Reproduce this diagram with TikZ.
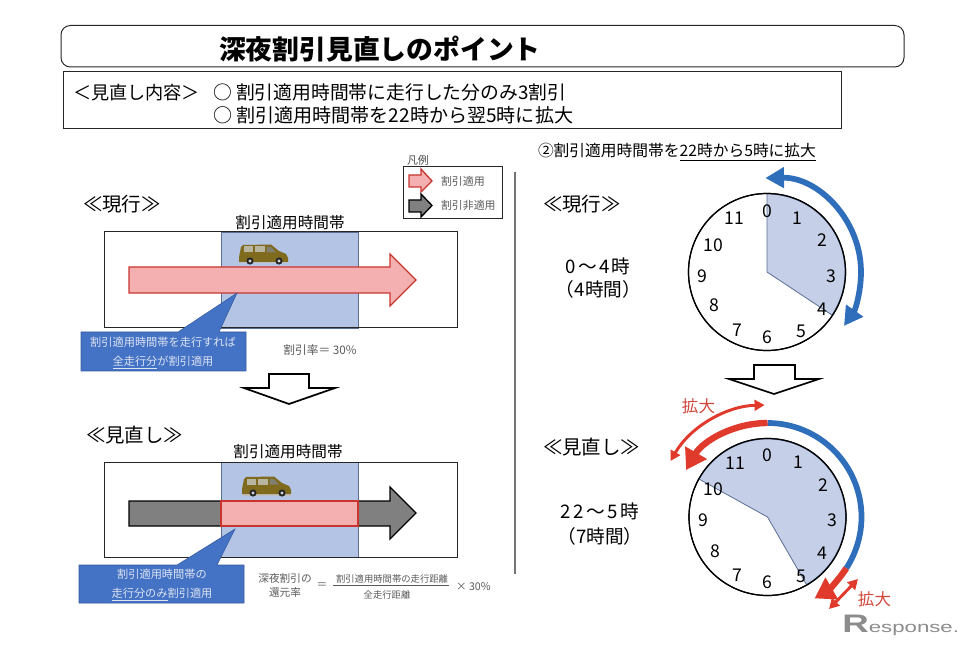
\documentclass[tikz,border=0pt]{standalone}
\usepackage{fontspec}
\setmainfont{Noto Sans CJK JP}
\newfontfamily\logofont[FakeStretch=1.45]{Liberation Sans}
\usetikzlibrary{arrows.meta}
\definecolor{bandblue}{HTML}{B4C4E4}
\definecolor{bandline}{HTML}{5A6E94}
\definecolor{wedgeblue}{HTML}{C5D0E8}
\definecolor{notefill}{HTML}{4472C4}
\definecolor{notetext}{HTML}{DDE4F2}
\definecolor{okpink}{HTML}{F4B0B0}
\definecolor{okred}{HTML}{C8352F}
\definecolor{arcblue}{HTML}{2F6EBA}
\definecolor{arcred}{HTML}{E03A2C}
\definecolor{textred}{HTML}{D0483C}
\definecolor{vanbody}{HTML}{7F6A1E}
\definecolor{vanglass}{HTML}{B8B6A0}
\tikzset{
  jp/.style={inner sep=0pt,outer sep=0pt,font=\fontsize{#1}{#1}\selectfont},
  clocknum/.style={jp=13.2},
  frameline/.style={draw=black!85,line width=0.75pt},
  bandrect/.style={draw=bandline,fill=bandblue,line width=0.7pt},
  okarrow/.style={draw=okred,fill=okpink,line width=1pt},
  ngarrow/.style={draw=black,fill=black!50,line width=1pt},
  notebox/.style={fill=notefill,draw=notefill!80!black,line width=0.4pt},
  notelabel/.style={jp=8.4,text=notetext,align=center},
  smallgray/.style={jp=#1,text=black!65},
  nextarrow/.style={draw=black,fill=white,line width=1.3pt,line join=miter},
  wedge/.style={draw=bandline,fill=wedgeblue,line width=0.6pt},
  thickblue/.style={draw=arcblue,line width=4.3pt},
  thickred/.style={draw=arcred,line width=4.8pt},
  thinred/.style={draw=arcred,line width=2.2pt},
  minivan/.pic={
    \fill[black!25] (1,17) rectangle (49,19.5);
    \fill[vanbody] (0,13) -- (2,3) -- (4,1) -- (32,0.5) -- (40,7) -- (47,10) -- (49,14) -- (49,18) -- (0,18) -- cycle;
    \fill[vanglass] (5,2.5) rectangle (14,8.5);
    \fill[vanglass] (15.5,2.5) rectangle (26,8.5);
    \fill[vanglass!70!black] (27.5,3) -- (32,3) -- (37,8.5) -- (27.5,8.5) -- cycle;
    \fill[black!85] (11,17) circle (3.6);
    \fill[black!85] (40,17) circle (3.6);
    \fill[black!15] (11,17) circle (1.7);
    \fill[black!15] (40,17) circle (1.7);
  }
}
\begin{document}
\begin{tikzpicture}[x=0.75pt,y=-0.75pt]
\useasboundingbox (0,0) rectangle (968,645);

% header boxes
\draw[frameline,rounded corners=7pt] (61,25.5) rectangle (904,67);
\node[jp=20.1,anchor=west] (title) at (219,49) {\bfseries 深夜割引見直しのポイント};
\draw[frameline] (63,72) rectangle (841,128.5);
\node[jp=13.6,anchor=west] (heading) at (73,93) {＜見直し内容＞};
\node[jp=14.1,anchor=west] (pointa) at (213,92) {○ 割引適用時間帯に走行した分のみ3割引};
\node[jp=14.3,anchor=west] (pointb) at (213,115) {○ 割引適用時間帯を22時から翌5時に拡大};

% legend
\node[jp=8.2,anchor=west,text=black!70] (legendtitle) at (407,160) {凡例};
\draw[frameline] (403,167) rectangle (502,219);
\draw[okarrow] (409,175) -- (421,175) -- (421,169) -- (432,181) -- (421,192) -- (421,187) -- (409,187) -- cycle;
\draw[ngarrow] (409,200) -- (421,200) -- (421,194) -- (432,205.5) -- (421,217) -- (421,212) -- (409,212) -- cycle;
\node[smallgray=8.2,anchor=west] (legendok) at (441,181) {割引適用};
\node[smallgray=8.2,anchor=west] (legendng) at (441,205) {割引非適用};

% left, current
\node[jp=14.6,anchor=west] (nowleft) at (83,204) {≪現行≫};
\node[jp=11.7] (bandnow) at (290,223) {割引適用時間帯};
\draw[bandrect] (221,232) rectangle (358,328);
\draw[frameline] (104.5,232) rectangle (457,328);
\pic (vannow) at (239,244) {minivan};
\draw[okarrow] (129,267) -- (390,267) -- (390,254) -- (416,280) -- (390,306) -- (390,293) -- (129,293) -- cycle;
\draw[notebox] (81,332) -- (178,332) -- (237,293) -- (219,332) -- (246,332) -- (246,371) -- (81,371) -- cycle;
\node[notelabel] (notenow) at (163,353) {割引適用時間帯を走行すれば\\[5.5pt]\underline{全走行分}が割引適用};
\node[smallgray=8.8] (ratenow) at (320,350) {割引率＝ 30\%};

\draw[nextarrow] (269,374) -- (309,374) -- (309,388) -- (335,388) -- (289,404) -- (244,388) -- (269,388) -- cycle;

% left, revised
\node[jp=14.6,anchor=west] (newleft) at (86,435) {≪見直し≫};
\node[jp=11.7] (bandnew) at (288,452) {割引適用時間帯};
\draw[bandrect] (221,462) rectangle (358,557);
\draw[frameline] (104,462) rectangle (457,557);
\pic (vannew) at (242,476) {minivan};
\draw[ngarrow] (129,501) -- (390,501) -- (390,487) -- (416,513) -- (390,539) -- (390,526) -- (129,526) -- cycle;
\draw[okarrow,line width=1.2pt] (221,501) rectangle (358,526);
\draw[notebox] (79,565) -- (177,565) -- (235,529) -- (217,565) -- (244,565) -- (244,603) -- (79,603) -- cycle;
\node[notelabel] (notenew) at (162,585) {割引適用時間帯の\\[5.5pt]\underline{走行分のみ}割引適用};

% formula
\node[smallgray=8] (backa) at (285,578) {深夜割引の};
\node[smallgray=8] (backb) at (285,592) {還元率};
\node[smallgray=8] (equal) at (322,586) {＝};
\node[smallgray=7] (fracup) at (392,579) {割引適用時間帯の走行距離};
\draw[black!65,line width=0.6pt] (333,585) -- (449,585);
\node[smallgray=7] (fracdown) at (387,595) {全走行距離};
\node[smallgray=8,anchor=west] (times) at (456,587) {× 30\%};

% divider
\draw[black!55,line width=0.8pt] (515,172) -- (515,574);

% right, heading
\node[jp=11.8,anchor=west] (rightHead) at (538,152) {②割引適用時間帯を\underline{22時から5時に拡大}};

% right, current
\node[jp=14.6,anchor=west] (nowright) at (543,204) {≪現行≫};
\node[jp=14] (hoursnow) at (598,266) {0\kern1.5pt～\kern1.5pt4\kern1.5pt時};
\node[jp=14] (spannow) at (598.5,289) {（4時間）};
\draw[black,fill=white,line width=0.9pt] (767,272) circle (78.5);
\draw[wedge] (767,272) -- (767,194) arc[start angle=-90,end angle=33.5,radius=78] -- cycle;
\draw[black,line width=0.9pt] (767,272) circle (78.5);
\node[clocknum] (nowzero) at (767,211) {0};
\node[clocknum] (nowone) at (797,218) {1};
\node[clocknum] (nowtwo) at (822,240) {2};
\node[clocknum] (nowthree) at (831,276) {3};
\node[clocknum] (nowfour) at (822,309) {4};
\node[clocknum] (nowfive) at (801,331) {5};
\node[clocknum] (nowsix) at (767,337) {6};
\node[clocknum] (nowseven) at (737,330) {7};
\node[clocknum] (noweight) at (714,305) {8};
\node[clocknum] (nownine) at (702,276) {9};
\node[clocknum] (nowten) at (713,245) {10};
\node[clocknum] (noweleven) at (734,218) {11};
\draw[thickblue,{Triangle[length=14pt,width=15pt]}-{Triangle[length=14pt,width=15pt]}] ([shift={(767,272)}]-91:94) arc[start angle=-91,end angle=35,radius=94];

\draw[nextarrow] (754,365) -- (795,365) -- (795,379) -- (819,379) -- (774,394) -- (729,379) -- (754,379) -- cycle;

% right, revised
\node[jp=14.6,anchor=west] (newright) at (543,447) {≪見直し≫};
\node[jp=14] (hoursnew) at (600,511) {2\kern2pt 2\kern2pt～\kern2pt 5\kern2pt 時};
\node[jp=14] (spannew) at (600,536) {（7時間）};
\draw[black,fill=white,line width=0.9pt] (767.5,517) circle (78.5);
\draw[wedge] (767.5,517) -- ([shift={(767.5,517)}]-151:78) arc[start angle=-151,end angle=60,radius=78] -- cycle;
\draw[black,line width=0.9pt] (767.5,517) circle (78.5);
\node[clocknum] (newzero) at (767,455) {0};
\node[clocknum] (newone) at (798,462) {1};
\node[clocknum] (newtwo) at (823,485) {2};
\node[clocknum] (newthree) at (832,520) {3};
\node[clocknum] (newfour) at (822,553) {4};
\node[clocknum] (newfive) at (801,576) {5};
\node[clocknum] (newsix) at (767,582) {6};
\node[clocknum] (newseven) at (737,575) {7};
\node[clocknum] (neweight) at (715,551) {8};
\node[clocknum] (newnine) at (703,520) {9};
\node[clocknum] (newten) at (713,489) {10};
\node[clocknum] (neweleven) at (735,463) {11};
\draw[thickblue] ([shift={(767.5,517)}]-90:94) arc[start angle=-90,end angle=33,radius=94];
\draw[thickred,-{Triangle[length=15pt,width=18pt]}] ([shift={(767.5,517)}]-90:94) arc[start angle=-90,end angle=-150,radius=94];
\draw[thickred,-{Triangle[length=15pt,width=18pt]}] ([shift={(767.5,517)}]33:94) arc[start angle=33,end angle=60,radius=94];
\draw[thinred,{Triangle[length=7.5pt,width=8pt]}-{Triangle[length=7.5pt,width=8pt]}] ([shift={(767.5,517)}]-91.5:112) arc[start angle=-91.5,end angle=-150,radius=112];
\coordinate (stretchA) at (858,579);
\coordinate (stretchB) at (829,609);
\draw[thinred,{Triangle[length=7.5pt,width=8pt]}-{Triangle[length=7.5pt,width=8pt]}] (stretchA) -- (stretchB);
\node[jp=12.4,text=textred] (growtop) at (698.5,406) {拡大};
\node[jp=12.4,text=textred] (growlow) at (874.5,599) {拡大};

% watermark
\node[anchor=base west,inner sep=0pt,font=\logofont\fontsize{11.5}{11.5}\selectfont,text=black!45] (logo) at (842,632) {{\bfseries\fontsize{19}{19}\selectfont R}esponse.};
\end{tikzpicture}
\end{document}
